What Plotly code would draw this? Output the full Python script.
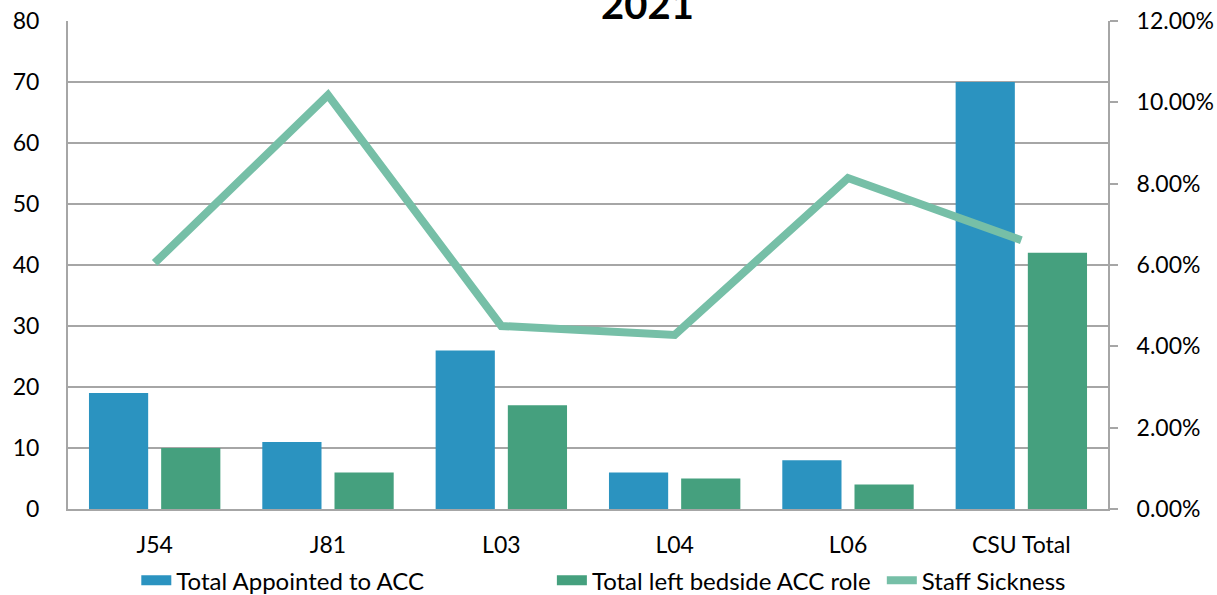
import plotly.graph_objects as go

categories = ["J54", "J81", "L03", "L04", "L06", "CSU Total"]
appointed = [19, 11, 26, 6, 8, 70]
left_role = [10, 6, 17, 5, 4, 42]
sickness = [0.0605, 0.1018, 0.045, 0.0428, 0.0814, 0.0661]
series_names = ["Total Appointed to ACC", "Total left bedside ACC role", "Staff Sickness"]

FONT = "Lato"
BLUE = "#2b93c0"
GREEN = "#45a07e"
LINE = "#76bfa7"
NB = "\u00a0"

fig = go.Figure()
fig.add_trace(go.Bar(
    x=categories, y=appointed, name=series_names[0],
    marker=dict(color=BLUE, line=dict(width=0)), showlegend=False,
))
fig.add_trace(go.Bar(
    x=categories, y=left_role, name=series_names[1],
    marker=dict(color=GREEN, line=dict(width=0)), showlegend=False,
))
fig.add_trace(go.Scatter(
    x=categories, y=sickness, name=series_names[2], mode="lines",
    line=dict(color=LINE, width=8), yaxis="y2", showlegend=False,
))
# legend entries (legend-only, wide rectangular swatches like the original)
pads = [20, 1, 0]
for nm, col, w, p in zip(series_names, [BLUE, GREEN, LINE], [15, 15, 8], pads):
    fig.add_trace(go.Scatter(x=[None], y=[None], mode="lines", name=nm + NB * p,
                             line=dict(color=col, width=w), showlegend=True))

fig.update_layout(
    width=1217, height=595,
    margin=dict(l=68, r=109, t=21, b=86, autoexpand=False),
    paper_bgcolor="white", plot_bgcolor="white",
    font=dict(family=FONT, size=23, color="#000000"),
    title=dict(text="<b>2021</b>", x=0.532, xref="container", xanchor="center",
               y=0.968, yref="container", yanchor="bottom",
               font=dict(size=40, family=FONT, color="#000000")),
    barmode="group", bargap=0.167, bargroupgap=0.18,
    xaxis=dict(showline=True, linecolor="#a6a6a6", linewidth=2, ticks="",
               showgrid=False, tickfont=dict(size=23), ticklabelstandoff=14),
    yaxis=dict(range=[0, 80], dtick=10, showline=True, linecolor="#a6a6a6", linewidth=2,
               gridcolor="#a6a6a6", gridwidth=1.5, ticks="", ticklabelstandoff=22,
               zeroline=False, tickfont=dict(size=23)),
    yaxis2=dict(range=[0, 0.12], dtick=0.02, tickformat=".2%", overlaying="y", side="right",
                showline=True, linecolor="#a6a6a6", linewidth=2, showgrid=False,
                ticks="outside", ticklen=8, tickcolor="#a6a6a6", tickwidth=1.5,
                ticklabelstandoff=14, zeroline=False, tickfont=dict(size=23)),
    legend=dict(orientation="h", x=0.112, xref="container", xanchor="left",
                y=0.024, yref="container", yanchor="middle",
                font=dict(size=24), itemwidth=30, traceorder="normal",
                bgcolor="rgba(0,0,0,0)", tracegroupgap=0),
    showlegend=True,
)

fig.write_html("out.html")
